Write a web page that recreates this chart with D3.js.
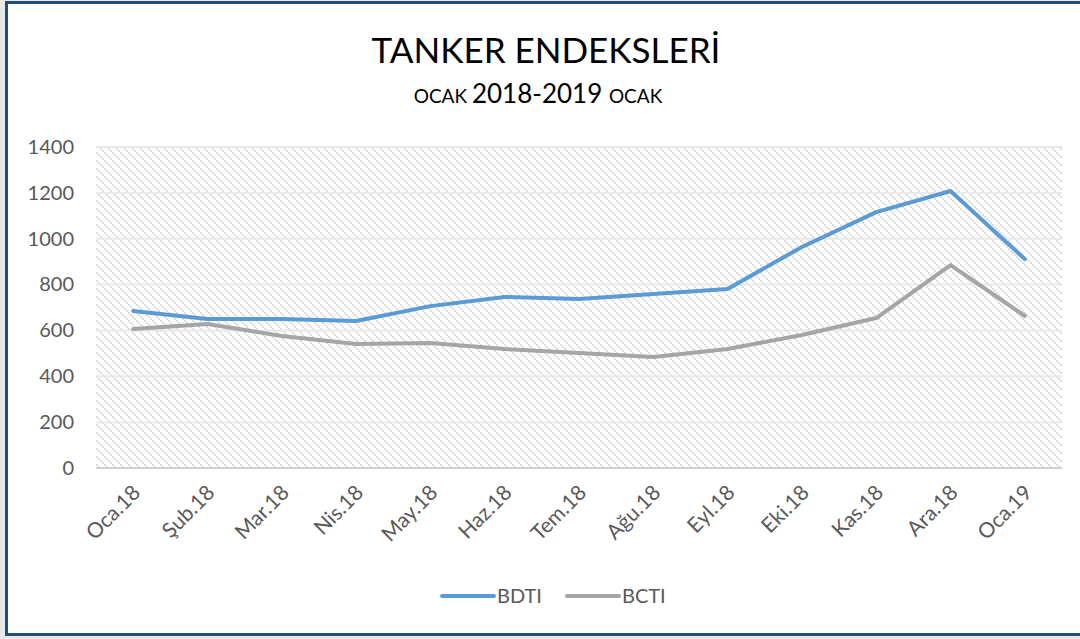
<!DOCTYPE html>
<html>
<head>
<meta charset="utf-8">
<script src="https://cdn.jsdelivr.net/npm/d3@7"></script>
<style>
  body { margin: 0; background: #e7e7e7; }
  text { font-family: Lato, "Open Sans", sans-serif; }
</style>
</head>
<body>
<div id="chart"></div>
<script>
// Chart data
const months = ["Oca.18", "Şub.18", "Mar.18", "Nis.18", "May.18", "Haz.18", "Tem.18",
                "Ağu.18", "Eyl.18", "Eki.18", "Kas.18", "Ara.18", "Oca.19"];
const bdti = [685, 650, 650, 641, 706, 746, 737, 759, 781, 964, 1116, 1208, 911];
const bcti = [606, 628, 576, 541, 545, 519, 502, 484, 519, 580, 654, 885, 663];
const yTicks = [0, 200, 400, 600, 800, 1000, 1200, 1400];
const seriesNames = ["BDTI", "BCTI"];
const seriesColors = ["#5b9bd5", "#a5a5a5"];

const width = 1080;
const height = 639;
const margin = {left: 96, right: 18, top: 147, bottom: 171};

const svg = d3.select("#chart")
  .append("svg")
  .attr("width", width)
  .attr("height", height);

// white frame with dark blue border
svg.append("rect")
  .attr("x", 6.5).attr("y", 2.5)
  .attr("width", width + 10).attr("height", 632)
  .attr("fill", "white")
  .attr("stroke", "#1f4e79")
  .attr("stroke-width", 3);

// dotted diagonal hatch for the plot area
const defs = svg.append("defs");
const pat = defs.append("pattern")
  .attr("id", "hatch")
  .attr("patternUnits", "userSpaceOnUse")
  .attr("width", 8).attr("height", 8);
pat.append("rect").attr("width", 8).attr("height", 8).attr("fill", "white");
[[0,0],[2,2],[4,4],[6,6]].forEach(p => {
  pat.append("rect").attr("x", p[0]).attr("y", p[1])
    .attr("width", 2).attr("height", 2).attr("fill", "#dddddd");
});

let xScale = d3.scalePoint()
  .domain(months)
  .range([margin.left, width - margin.right])
  .padding(0.5);

let yScale = d3.scaleLinear()
  .domain([0, 1400])
  .range([height - margin.bottom, margin.top]);

svg.append("rect")
  .attr("x", margin.left)
  .attr("y", margin.top)
  .attr("width", width - margin.left - margin.right)
  .attr("height", height - margin.top - margin.bottom)
  .attr("fill", "url(#hatch)");

// gridlines
svg.append("g")
  .selectAll("line")
  .data(yTicks)
  .enter()
  .append("line")
  .attr("x1", margin.left)
  .attr("x2", width - margin.right)
  .attr("y1", d => yScale(d))
  .attr("y2", d => yScale(d))
  .attr("stroke", d => d === 0 ? "#d0d0d0" : "#e8e8e8")
  .attr("stroke-width", 2);

// y axis labels
const yAxis = svg.append("g")
  .attr("transform", `translate(${margin.left - 22}, 0)`)
  .call(d3.axisLeft(yScale).tickValues(yTicks).tickFormat(d3.format("d")).tickSize(0).tickPadding(0));
yAxis.select(".domain").remove();
yAxis.selectAll("text")
  .attr("font-size", "20px")
  .attr("fill", "#595959")
  .style("font-family", "Lato, sans-serif");

// x axis labels
const xAxis = svg.append("g")
  .attr("transform", `translate(0, ${height - margin.bottom})`)
  .call(d3.axisBottom(xScale).tickSize(0).tickPadding(0));
xAxis.select(".domain").remove();
xAxis.selectAll("text")
  .attr("font-size", "21px")
  .attr("fill", "#595959")
  .style("font-family", "Lato, sans-serif")
  .attr("text-anchor", "end")
  .attr("dy", "0")
  .attr("transform", "translate(8, 26) rotate(-45)");

// lines
const line = d3.line()
  .x((d, i) => xScale(months[i]))
  .y(d => yScale(d));

[bdti, bcti].forEach((s, i) => {
  svg.append("path")
    .datum(s)
    .attr("fill", "none")
    .attr("stroke", seriesColors[i])
    .attr("stroke-width", 4)
    .attr("stroke-linejoin", "round")
    .attr("stroke-linecap", "round")
    .attr("d", line);
});

// titles
svg.append("text")
  .attr("x", 546).attr("y", 63)
  .attr("text-anchor", "middle")
  .attr("font-size", "35px")
  .attr("fill", "black")
  .text("TANKER ENDEKSLERİ");

const sub = svg.append("text")
  .attr("x", 538).attr("y", 103)
  .attr("text-anchor", "middle")
  .attr("fill", "black");
sub.append("tspan").attr("font-size", "19px").text("OCAK ");
sub.append("tspan").attr("font-size", "26px").text("2018-2019 ");
sub.append("tspan").attr("font-size", "19px").text("OCAK");

// legend
const legendX = [440, 565];
seriesNames.forEach((name, i) => {
  const g = svg.append("g").attr("transform", `translate(${legendX[i]}, 596)`);
  g.append("line")
    .attr("x1", 2).attr("x2", 54)
    .attr("stroke", seriesColors[i])
    .attr("stroke-width", 4)
    .attr("stroke-linecap", "round");
  g.append("text")
    .attr("x", 57).attr("y", 7)
    .attr("font-size", "20px")
    .attr("fill", "#595959")
    .text(name);
});
</script>
</body>
</html>
